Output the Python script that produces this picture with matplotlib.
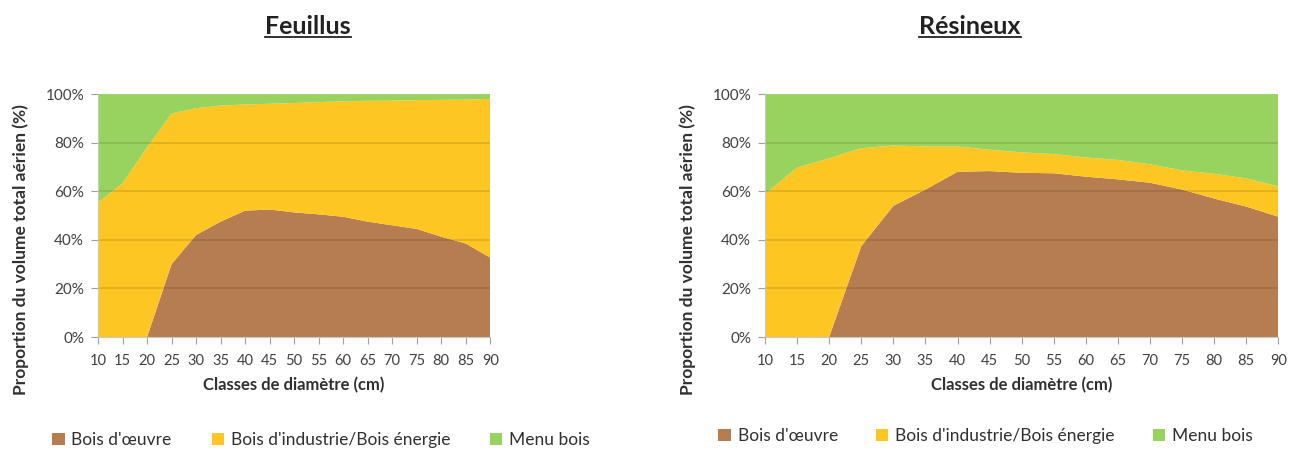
import matplotlib.pyplot as plt
from matplotlib.patches import Patch

plt.rcParams['font.family'] = ['Lato', 'DejaVu Sans']

diametres = [10, 15, 20, 25, 30, 35, 40, 45, 50, 55, 60, 65, 70, 75, 80, 85, 90]

# Feuillus (% of total aerial volume)
feu_oeuvre = [0, 0, 0, 30, 42, 47.5, 52, 52.5, 51.3, 50.5, 49.5, 47.5, 46, 44.5, 41.3, 38.5, 32.7]
feu_industrie = [55.3, 63.3, 78, 62, 52.2, 47.7, 43.7, 43.5, 45, 46.2, 47.5, 49.7, 51.3, 53, 56.3, 59.2, 65.3]
# Résineux
res_oeuvre = [0, 0, 0, 37.4, 54, 60.7, 68, 68.3, 67.6, 67.4, 66, 64.9, 63.5, 60.7, 57, 53.7, 49.5]
res_industrie = [58.9, 69.7, 73.6, 40.3, 24.8, 17.8, 10.4, 8.8, 8.4, 7.9, 7.9, 8, 7.6, 7.9, 10.2, 11.6, 12.5]

series = ["Bois d'œuvre", "Bois d'industrie/Bois énergie", "Menu bois"]
colors = ["#B67E50", "#FDC623", "#99D35F"]


def draw_panel(ax, oeuvre, industrie):
    menu = [100 - a - b for a, b in zip(oeuvre, industrie)]
    ax.stackplot(diametres, oeuvre, industrie, menu, colors=colors, linewidth=0)
    ax.set_xlim(10, 90)
    ax.set_ylim(0, 100)
    ax.set_xticks(diametres)
    ax.set_yticks(range(0, 101, 20))
    ax.set_yticklabels([f"{v}%" for v in range(0, 101, 20)])
    ax.tick_params(axis="x", labelsize=10.5, colors="#404040", length=5, color="#a0a0a0", pad=7)
    ax.tick_params(axis="y", labelsize=11, colors="#404040", length=5, color="#a0a0a0", pad=5)
    for v in range(20, 100, 20):
        ax.axhline(v, color="#000000", alpha=0.12, linewidth=1.2)
    for s in ax.spines.values():
        s.set_color("#c8c8c8")
    ax.spines["top"].set_visible(False)
    ax.spines["right"].set_visible(False)
    ax.set_xlabel("Classes de diamètre (cm)", fontsize=12, fontweight="bold", color="#303030")
    ax.xaxis.set_label_coords(0.5, -0.165)
    ax.set_ylabel("Proportion du volume total aérien (%)", fontsize=12.5, fontweight="bold", color="#303030")


fig = plt.figure(figsize=(12.9, 4.5), dpi=100)
ax1 = fig.add_axes([0.076, 0.251, 0.304, 0.540])
ax2 = fig.add_axes([0.593, 0.251, 0.398, 0.540])

draw_panel(ax1, feu_oeuvre, feu_industrie)
draw_panel(ax2, res_oeuvre, res_industrie)
ax1.yaxis.set_label_coords(-0.175, 0.36)
ax2.yaxis.set_label_coords(-0.135, 0.36)

for x, title in [(0.239, "Feuillus"), (0.752, "Résineux")]:
    t = fig.text(x, 0.94, title, ha="center", va="center", fontsize=18, fontweight="bold", color="#222222")
    fig.canvas.draw()
    bb = t.get_window_extent().transformed(fig.transFigure.inverted())
    fig.add_artist(plt.Line2D([bb.x0, bb.x1], [bb.y0 + 0.004, bb.y0 + 0.004], color="#222222", linewidth=1.3))

handles = [Patch(facecolor=c, edgecolor="none") for c in colors]
fig.legend(handles, series, loc="center", bbox_to_anchor=(0.249, 0.022), ncol=3, frameon=False,
           fontsize=12.5, handlelength=0.7, handleheight=0.7, handletextpad=0.4, columnspacing=2.3,
           labelcolor="#303030")
fig.legend(handles, series, loc="center", bbox_to_anchor=(0.764, 0.031), ncol=3, frameon=False,
           fontsize=12.5, handlelength=0.7, handleheight=0.7, handletextpad=0.4, columnspacing=2.2,
           labelcolor="#303030")

fig.savefig("out.png", dpi=100)
